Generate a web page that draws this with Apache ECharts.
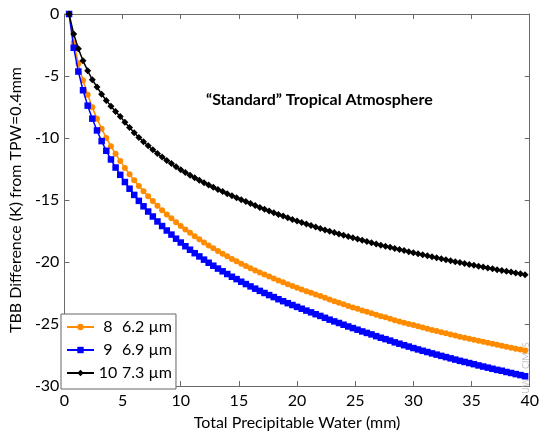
<!DOCTYPE html>
<html>
<head>
<meta charset="utf-8">
<script src="https://cdn.jsdelivr.net/npm/echarts@6/dist/echarts.min.js"></script>
<style>
html,body{margin:0;padding:0;background:#fff;}
#chart{width:542px;height:436px;}
</style>
</head>
<body>
<div id="chart"></div>
<script>
// Total precipitable water (mm)
var tpw = [0.4,0.8,1.2,1.6,2.0,2.4,2.8,3.2,3.6,4.0,4.4,4.8,5.2,5.6,6.0,6.4,6.8,7.2,7.6,8.0,
8.4,8.8,9.2,9.6,10.0,10.4,10.8,11.2,11.6,12.0,12.4,12.8,13.2,13.6,14.0,14.4,14.8,15.2,15.6,16.0,
16.4,16.8,17.2,17.6,18.0,18.4,18.8,19.2,19.6,20.0,20.4,20.8,21.2,21.6,22.0,22.4,22.8,23.2,23.6,24.0,
24.4,24.8,25.2,25.6,26.0,26.4,26.8,27.2,27.6,28.0,28.4,28.8,29.2,29.6,30.0,30.4,30.8,31.2,31.6,32.0,
32.4,32.8,33.2,33.6,34.0,34.4,34.8,35.2,35.6,36.0,36.4,36.8,37.2,37.6,38.0,38.4,38.8,39.2,39.6];

// Band 8 (6.2 um)
var band8 = [0,-2.30,-4.00,-5.35,-6.51,-7.53,-8.44,-9.25,-9.99,-10.66,
-11.28,-11.85,-12.41,-12.93,-13.41,-13.87,-14.29,-14.69,-15.08,-15.46,
-15.82,-16.16,-16.48,-16.79,-17.09,-17.38,-17.65,-17.92,-18.17,-18.42,
-18.66,-18.90,-19.12,-19.33,-19.54,-19.75,-19.94,-20.14,-20.32,-20.50,
-20.68,-20.85,-21.01,-21.17,-21.33,-21.49,-21.64,-21.79,-21.93,-22.07,
-22.21,-22.35,-22.48,-22.62,-22.75,-22.89,-23.03,-23.16,-23.28,-23.41,
-23.54,-23.66,-23.78,-23.91,-24.02,-24.13,-24.25,-24.37,-24.46,-24.57,
-24.69,-24.79,-24.89,-24.99,-25.09,-25.19,-25.29,-25.38,-25.48,-25.57,
-25.66,-25.75,-25.84,-25.93,-26.02,-26.10,-26.19,-26.27,-26.36,-26.44,
-26.52,-26.60,-26.68,-26.75,-26.84,-26.91,-26.99,-27.06,-27.14];

// Band 9 (6.9 um)
var band9 = [0,-2.72,-4.64,-6.15,-7.39,-8.44,-9.39,-10.25,-11.03,-11.73,
-12.38,-12.97,-13.55,-14.09,-14.59,-15.07,-15.51,-15.93,-16.33,-16.73,
-17.10,-17.46,-17.79,-18.12,-18.43,-18.73,-19.01,-19.29,-19.55,-19.81,
-20.06,-20.30,-20.53,-20.75,-20.97,-21.19,-21.38,-21.59,-21.78,-21.97,
-22.15,-22.33,-22.50,-22.67,-22.83,-23.00,-23.16,-23.32,-23.47,-23.62,
-23.77,-23.92,-24.06,-24.21,-24.35,-24.50,-24.65,-24.79,-24.92,-25.06,
-25.20,-25.33,-25.46,-25.60,-25.72,-25.84,-25.98,-26.11,-26.22,-26.34,
-26.48,-26.59,-26.71,-26.82,-26.94,-27.05,-27.16,-27.26,-27.37,-27.47,
-27.57,-27.67,-27.77,-27.87,-27.97,-28.06,-28.15,-28.24,-28.34,-28.43,
-28.52,-28.61,-28.70,-28.77,-28.87,-28.95,-29.04,-29.12,-29.21];

// Band 10 (7.3 um)
var band10 = [0,-1.61,-2.80,-3.77,-4.57,-5.30,-5.88,-6.47,-6.97,-7.43,
-7.86,-8.26,-8.73,-9.16,-9.57,-9.95,-10.30,-10.63,-10.95,-11.25,
-11.54,-11.81,-12.06,-12.32,-12.56,-12.78,-13.00,-13.21,-13.41,-13.61,
-13.80,-13.98,-14.16,-14.32,-14.49,-14.66,-14.81,-14.97,-15.13,-15.29,
-15.45,-15.60,-15.74,-15.89,-16.03,-16.17,-16.30,-16.44,-16.57,-16.70,
-16.82,-16.94,-17.06,-17.18,-17.29,-17.41,-17.52,-17.63,-17.74,-17.84,
-17.95,-18.05,-18.15,-18.25,-18.35,-18.45,-18.54,-18.64,-18.72,-18.81,
-18.91,-19.00,-19.08,-19.17,-19.25,-19.34,-19.42,-19.50,-19.58,-19.66,
-19.74,-19.82,-19.90,-19.97,-20.05,-20.12,-20.20,-20.27,-20.34,-20.41,
-20.48,-20.55,-20.62,-20.68,-20.75,-20.81,-20.88,-20.94,-21.03];

var bandNums = ['8', '9', '10'];
var wavelengths = ['6.2 \u00b5m', '6.9 \u00b5m', '7.3 \u00b5m'];
var xTicks = {min: 0, max: 40, step: 5};
var yTicks = {min: -30, max: 0, step: 5};
var titleText = '\u201cStandard\u201d Tropical Atmosphere';
var xTitle = 'Total Precipitable Water (mm)';
var yTitle = 'TBB Difference (K) from TPW=0.4mm';
var watermark = 'UW / CIMSS';

var FONT = 'Lato, "Open Sans", sans-serif';
var AXC = '#6a6a6a';

function pairs(ys) {
  return tpw.map(function (x, i) { return [x, ys[i]]; });
}

var seriesDefs = [
  {vals: band8, color: '#ff8c00', symbol: 'circle', size: 6},
  {vals: band9, color: '#0000ff', symbol: 'rect', size: 6.5},
  {vals: band10, color: '#000000', symbol: 'diamond', size: 7}
];

var names = bandNums.map(function (n, i) { return n + ' ' + wavelengths[i]; });

function axisCommon(extra) {
  var base = {
    type: 'value',
    axisLine: {show: true, onZero: false, lineStyle: {color: AXC, width: 1}},
    axisTick: {show: true, inside: true, length: 5, lineStyle: {color: AXC, width: 1}},
    splitLine: {show: false}
  };
  for (var k in extra) base[k] = extra[k];
  return base;
}

var chart = echarts.init(document.getElementById('chart'), null, {renderer: 'canvas'});
chart.setOption({
  animation: false,
  backgroundColor: '#fff',
  grid: {left: 57, right: 5, top: 14, bottom: 43, containLabel: false},
  xAxis: [
    axisCommon({
      min: xTicks.min, max: xTicks.max, interval: xTicks.step, position: 'bottom',
      axisLabel: {show: true, color: '#000', fontSize: 16, fontFamily: FONT, margin: 7},
      name: xTitle, nameLocation: 'middle', nameGap: 29,
      nameTextStyle: {color: '#000', fontSize: 16, fontFamily: FONT}
    }),
    axisCommon({
      min: xTicks.min, max: xTicks.max, interval: xTicks.step, position: 'top',
      axisLabel: {show: false}
    })
  ],
  yAxis: [
    axisCommon({
      min: yTicks.min, max: yTicks.max, interval: yTicks.step, position: 'left',
      axisLabel: {show: true, color: '#000', fontSize: 16, fontFamily: FONT, margin: 5},
      name: yTitle, nameLocation: 'middle', nameGap: 34, nameRotate: 90,
      nameTextStyle: {color: '#000', fontSize: 16, fontFamily: FONT}
    }),
    axisCommon({
      min: yTicks.min, max: yTicks.max, interval: yTicks.step, position: 'right',
      axisLabel: {show: false}
    })
  ],
  legend: {
    orient: 'vertical', left: 61, top: 314,
    padding: [5, 4, 8, 5], itemGap: 7, itemWidth: 27, itemHeight: 8,
    borderColor: '#666', borderWidth: 1, backgroundColor: '#fff',
    data: names,
    formatter: function (name) {
      var i = names.indexOf(name);
      return '{n|' + bandNums[i] + '}{w|' + wavelengths[i] + '}';
    },
    textStyle: {
      color: '#000', fontSize: 16, fontFamily: FONT,
      rich: {
        n: {width: 18, align: 'right', fontSize: 16, fontFamily: FONT, color: '#000'},
        w: {fontSize: 16, fontFamily: FONT, color: '#000', padding: [0, 0, 0, 5]}
      }
    }
  },
  graphic: [
    {
      type: 'text', left: 206, top: 92, z: 10,
      style: {text: titleText, fill: '#000', font: 'bold 16px ' + FONT}
    },
    {
      type: 'text', x: 526, y: 368, rotation: Math.PI / 2, z: 1,
      style: {text: watermark, fill: '#c4c4c4', font: '9px ' + FONT, align: 'center', verticalAlign: 'middle'}
    }
  ],
  series: seriesDefs.map(function (d, i) {
    return {
      name: names[i],
      type: 'line',
      xAxisIndex: 0, yAxisIndex: 0,
      data: pairs(d.vals),
      symbol: d.symbol,
      symbolSize: d.size,
      showSymbol: true,
      showAllSymbol: true,
      lineStyle: {color: d.color, width: 1.5},
      itemStyle: {color: d.color, borderWidth: 0},
      z: 2 + i
    };
  })
});
</script>
</body>
</html>
